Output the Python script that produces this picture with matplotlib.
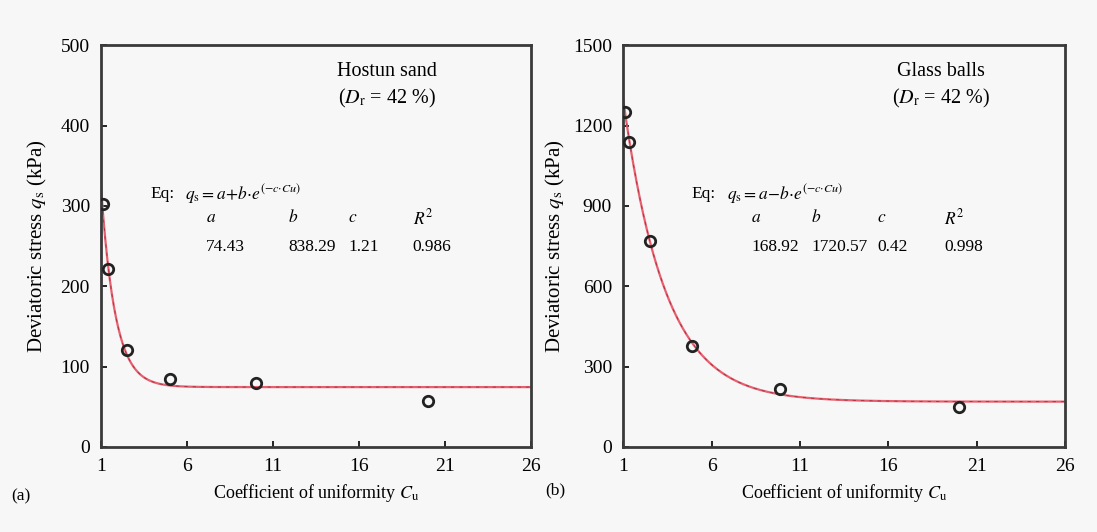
import numpy as np
import matplotlib
matplotlib.use("Agg")
import matplotlib.pyplot as plt

plt.rcParams['font.family'] = ['Liberation Serif', 'DejaVu Serif']
plt.rcParams['mathtext.fontset'] = 'stix'

# measured data
cu_a = [1.1, 1.4, 2.5, 5.0, 10.0, 20.0]
qs_a = [302, 222, 120, 84, 80, 57]
cu_b = [1.1, 1.36, 2.5, 4.9, 9.9, 20.0]
qs_b = [1251, 1138, 768, 376, 216, 149]

# fitted parameters  q = a + b*exp(-c*Cu)
fit_a = (74.43, 838.29, 1.21, 0.986)
fit_b = (168.92, 1720.57, 0.42, 0.998)

bg = '#f7f7f7'
fig = plt.figure(figsize=(10.97, 5.32), dpi=100, facecolor=bg)
ax1 = fig.add_axes([0.092, 0.160, 0.392, 0.755])
ax2 = fig.add_axes([0.568, 0.160, 0.403, 0.755])

eq_a = r'$q_\mathrm{s}=a\!+\!b{\cdot}e^{(-c{\cdot}Cu)}$'
eq_b = r'$q_\mathrm{s}=a\!-\!b{\cdot}e^{(-c{\cdot}Cu)}$'
panels = [
    (ax1, cu_a, qs_a, fit_a, 500, 100, 'Hostun sand', 0.665, 0.115, [0.245, 0.435, 0.575, 0.725], 8, eq_a),
    (ax2, cu_b, qs_b, fit_b, 1500, 300, 'Glass balls', 0.72, 0.155, [0.29, 0.425, 0.575, 0.727], 4, eq_b),
]

for ax, cu, qs, fit, ymax, ystep, name, nx, ex, cols, lp, eq in panels:
    a, b, c, r2 = fit
    ax.set_facecolor(bg)
    xx = np.linspace(1, 26, 400)
    ax.plot(xx, a + b * np.exp(-c * xx), color='#e8606e', lw=1.6, zorder=2)
    ax.plot(xx, a + b * np.exp(-c * xx), color='#a03048', lw=0.6, ls=(0, (4, 6)), zorder=2)
    ax.plot(cu, qs, 'o', ms=7.5, mfc='none', mec='#222222', mew=2.0, zorder=3)
    ax.set_xlim(1, 26)
    ax.set_ylim(0, ymax)
    ax.set_xticks([1, 6, 11, 16, 21, 26])
    ax.set_yticks(np.arange(0, ymax + 1, ystep))
    ax.tick_params(direction='in', labelsize=14, length=4, width=1.2, pad=8)
    for s in ax.spines.values():
        s.set_linewidth(2)
        s.set_color('#3a3a3a')
    ax.set_xlabel(r'Coefficient of uniformity $C_\mathrm{u}$', fontsize=13, labelpad=5)
    ax.set_ylabel(r'Deviatoric stress $q_\mathrm{s}$ (kPa)', fontsize=15, labelpad=lp)
    ax.text(nx, 0.935, name, transform=ax.transAxes, ha='center', va='center', fontsize=14.5)
    ax.text(nx, 0.868, r'($D_\mathrm{r}$ = 42 %)', transform=ax.transAxes, ha='center', va='center', fontsize=14.5)
    ax.text(ex, 0.63, 'Eq:', transform=ax.transAxes, fontsize=12.5, va='center')
    ax.text(ex + 0.08, 0.63, eq, transform=ax.transAxes, fontsize=12.5, va='center')
    heads = ['$a$', '$b$', '$c$', '$R^2$']
    vals = ['%.2f' % a, '%.2f' % b, '%.2f' % c, '%.3f' % r2]
    for cx, h, v in zip(cols, heads, vals):
        ax.text(cx, 0.57, h, transform=ax.transAxes, fontsize=12.5, va='center')
        ax.text(cx, 0.497, v, transform=ax.transAxes, fontsize=12.5, va='center')

fig.text(0.01, 0.06, '(a)', fontsize=12.5)
fig.text(0.497, 0.07, '(b)', fontsize=12.5)

fig.savefig('out.png', dpi=100, facecolor=bg)
